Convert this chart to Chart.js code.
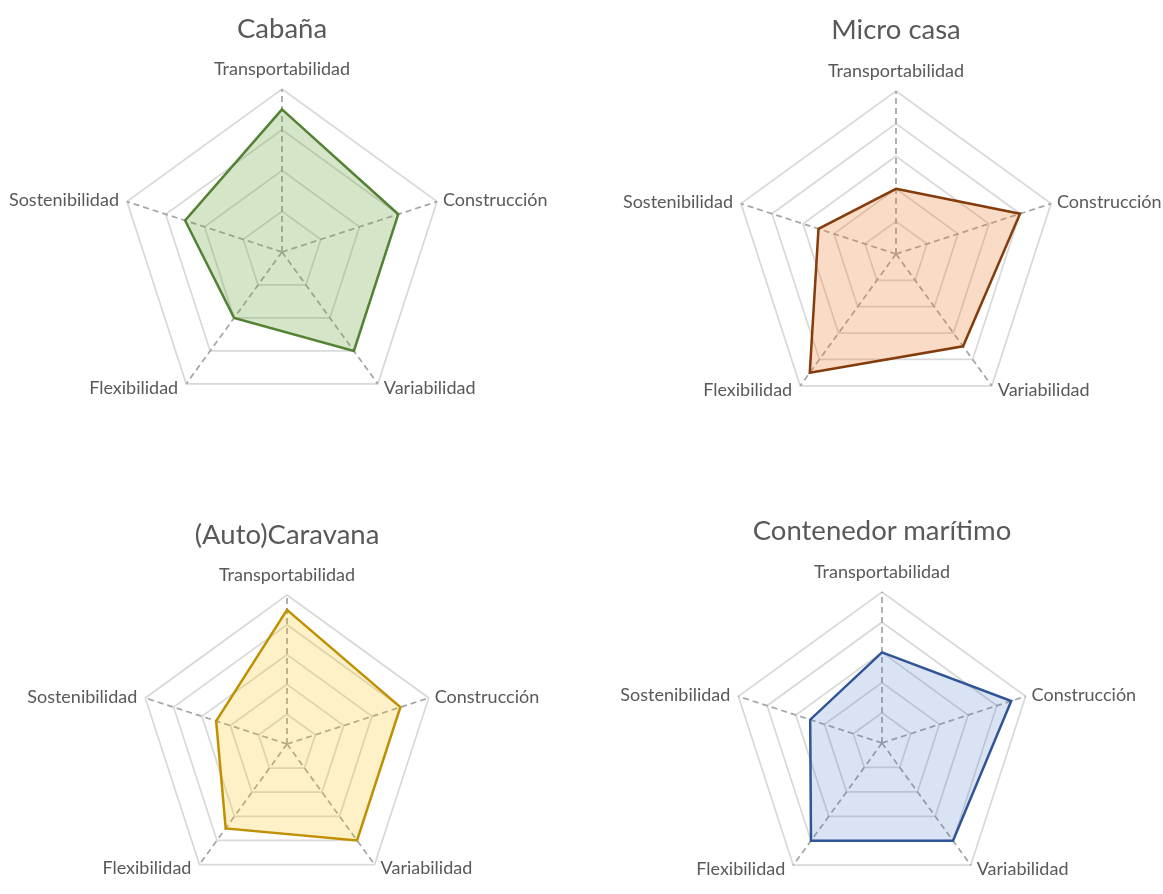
<!DOCTYPE html>
<html>
<head>
<meta charset="utf-8">
<script src="https://cdn.jsdelivr.net/npm/chart.js@4.4.0/dist/chart.umd.min.js"></script>
<style>
  html, body { margin: 0; padding: 0; background: #fff; }
  #page { position: relative; width: 1163px; height: 894px; overflow: hidden; }
  canvas { position: absolute; }
  .title {
    position: absolute;
    transform: translate(-50%, -50%);
    font-family: Lato, 'Open Sans', sans-serif;
    font-size: 27.5px;
    color: #595959;
    white-space: nowrap;
  }
</style>
</head>
<body>
<div id="page"></div>
<script>
// ejes (en el orden de las agujas del reloj desde arriba)
const axes = ['Transportabilidad', 'Construcción', 'Variabilidad', 'Flexibilidad', 'Sostenibilidad'];

const titles = ['Cabaña', 'Micro casa', '(Auto)Caravana', 'Contenedor marítimo'];

// valores de cada tipo de vivienda
const cabana = [3.5, 3, 3, 2, 2.5];
const microCasa = [2, 4, 3.5, 4.5, 2.5];
const caravana = [4.5, 4, 4, 3.5, 2.5];
const contenedor = [3, 4.5, 4, 4, 2.5];

// máximo de la escala en cada gráfico
const scaleMax = [4, 5, 5, 5];

const series = [cabana, microCasa, caravana, contenedor];

const lineColors = ['#548235', '#843c0c', '#bf9000', '#2f5597'];
const fillColors = ['rgba(112,173,71,0.3)', 'rgba(237,125,49,0.28)', 'rgba(255,192,0,0.22)', 'rgba(68,114,196,0.2)'];

// posición de cada gráfico en la página: cuadrante, centro y radio
const boxes = [
    { left: 0,   top: 0,   w: 580, h: 447, cx: 282, cy: 252, r: 163, ty: 27 },
    { left: 580, top: 0,   w: 583, h: 447, cx: 896, cy: 254, r: 163, ty: 28 },
    { left: 0,   top: 447, w: 580, h: 447, cx: 287, cy: 753, r: 158, ty: 533 },
    { left: 580, top: 447, w: 583, h: 447, cx: 882, cy: 751, r: 159, ty: 529 }
];

const FONT = "Lato, 'Open Sans', sans-serif";

// etiquetas de los ejes al estilo Excel
const axisLabelPlugin = {
    id: 'axisLabels',
    afterDraw(chart) {
        const scale = chart.scales.r;
        const ctx = chart.ctx;
        ctx.save();
        ctx.font = '18px ' + FONT;
        ctx.fillStyle = '#595959';
        ctx.textBaseline = 'middle';
        chart.data.labels.forEach((lbl, i) => {
            const p = scale.getPointPosition(i, scale.drawingArea);
            const dx = p.x - scale.xCenter;
            const dy = p.y - scale.yCenter;
            if (Math.abs(dx) < 1) {
                ctx.textAlign = 'center';
                ctx.fillText(lbl, p.x, p.y - 20);
            } else {
                ctx.textAlign = dx > 0 ? 'left' : 'right';
                const x = p.x + (dx > 0 ? 6 : -8);
                const y = p.y + (dy > 0 ? 4 : -1);
                ctx.fillText(lbl, x, y);
            }
        });
        ctx.restore();
    }
};

const page = document.getElementById('page');

series.forEach((values, k) => {
    const b = boxes[k];
    const canvas = document.createElement('canvas');
    canvas.width = b.w;
    canvas.height = b.h;
    canvas.style.left = b.left + 'px';
    canvas.style.top = b.top + 'px';
    page.appendChild(canvas);

    const t = document.createElement('div');
    t.className = 'title';
    t.textContent = titles[k];
    t.style.left = b.cx + 'px';
    t.style.top = b.ty + 'px';
    page.appendChild(t);

    const padL = b.cx - b.r - b.left;
    const padT = b.cy - b.r - b.top;

    new Chart(canvas.getContext('2d'), {
        type: 'radar',
        data: {
            labels: axes,
            datasets: [{
                label: titles[k],
                data: values,
                borderColor: lineColors[k],
                backgroundColor: fillColors[k],
                borderWidth: 2.5,
                fill: true,
                pointRadius: 0,
                pointHoverRadius: 0,
                tension: 0
            }]
        },
        options: {
            responsive: false,
            animation: false,
            layout: {
                padding: {
                    left: padL,
                    top: padT,
                    right: b.w - padL - 2 * b.r,
                    bottom: b.h - padT - 2 * b.r
                }
            },
            plugins: {
                legend: { display: false },
                tooltip: { enabled: false }
            },
            scales: {
                r: {
                    min: 0,
                    max: scaleMax[k],
                    ticks: { display: false, stepSize: 1 },
                    pointLabels: { display: false },
                    grid: { color: '#d9d9d9', lineWidth: 1.75 },
                    angleLines: {
                        color: '#a6a6a6',
                        lineWidth: 1.75,
                        borderDash: [6, 4]
                    }
                }
            }
        },
        plugins: [axisLabelPlugin]
    });
});
</script>
</body>
</html>
